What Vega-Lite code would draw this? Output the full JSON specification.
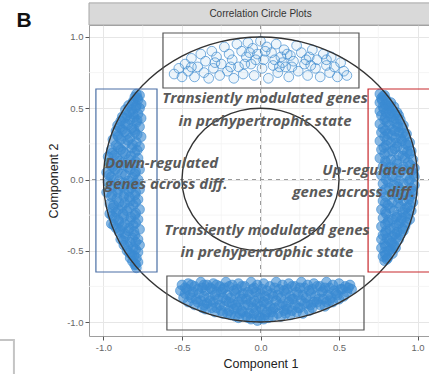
{
"$schema":"https://vega.github.io/schema/vega-lite/v6.json",
"width":343,"height":311,
"autosize":"none",
"padding":{"left":89,"top":25,"right":0,"bottom":38},
"background":"white",
"config":{"view":{"stroke":"#9e9e9e","strokeWidth":1},"font":"Liberation Sans"},
"datasets":{
"dense":[
{"x":0.76,"y":0.6},{"x":0.79,"y":0.59},{"x":0.77,"y":0.57},{"x":0.8,"y":0.56},{"x":0.76,"y":0.54},{"x":0.81,"y":0.53},{"x":0.83,"y":0.54},{"x":0.78,"y":0.51},{"x":0.82,"y":0.5},{"x":0.85,"y":0.51},{"x":0.76,"y":0.48},{"x":0.8,"y":0.47},{"x":0.84,"y":0.48},{"x":0.87,"y":0.47},{"x":0.77,"y":0.45},{"x":0.83,"y":0.44},{"x":0.88,"y":0.45},{"x":0.79,"y":0.42},{"x":0.85,"y":0.41},{"x":0.89,"y":0.42},{"x":0.76,"y":0.39},{"x":0.82,"y":0.38},{"x":0.87,"y":0.39},{"x":0.91,"y":0.38},{"x":0.78,"y":0.36},{"x":0.84,"y":0.35},{"x":0.9,"y":0.36},{"x":0.77,"y":0.33},{"x":0.81,"y":0.32},{"x":0.88,"y":0.33},{"x":0.93,"y":0.32},{"x":0.79,"y":0.3},{"x":0.86,"y":0.29},{"x":0.92,"y":0.3},{"x":0.76,"y":0.27},{"x":0.83,"y":0.26},{"x":0.9,"y":0.27},{"x":0.95,"y":0.26},{"x":0.8,"y":0.24},{"x":0.87,"y":0.23},{"x":0.94,"y":0.24},{"x":0.77,"y":0.21},{"x":0.84,"y":0.2},{"x":0.91,"y":0.21},{"x":0.96,"y":0.2},{"x":0.79,"y":0.18},{"x":0.88,"y":0.17},{"x":0.95,"y":0.18},{"x":0.76,"y":0.15},{"x":0.83,"y":0.14},{"x":0.92,"y":0.15},{"x":0.97,"y":0.14},{"x":0.8,"y":0.12},{"x":0.87,"y":0.11},{"x":0.94,"y":0.12},{"x":0.78,"y":0.09},{"x":0.85,"y":0.08},{"x":0.91,"y":0.09},{"x":0.98,"y":0.08},{"x":0.81,"y":0.06},{"x":0.89,"y":0.05},{"x":0.96,"y":0.06},{"x":0.77,"y":0.03},{"x":0.84,"y":0.02},{"x":0.93,"y":0.03},{"x":0.98,"y":0.02},{"x":0.8,"y":0.0},{"x":0.88,"y":-0.01},{"x":0.95,"y":0.0},{"x":0.78,"y":-0.03},{"x":0.85,"y":-0.04},{"x":0.91,"y":-0.03},{"x":0.98,"y":-0.04},{"x":0.82,"y":-0.06},{"x":0.89,"y":-0.07},{"x":0.96,"y":-0.06},{"x":0.77,"y":-0.09},{"x":0.86,"y":-0.1},{"x":0.93,"y":-0.09},{"x":0.97,"y":-0.1},{"x":0.8,"y":-0.12},{"x":0.88,"y":-0.13},{"x":0.95,"y":-0.12},{"x":0.78,"y":-0.15},{"x":0.84,"y":-0.16},{"x":0.91,"y":-0.15},{"x":0.97,"y":-0.16},{"x":0.81,"y":-0.18},{"x":0.89,"y":-0.19},{"x":0.95,"y":-0.18},{"x":0.77,"y":-0.21},{"x":0.85,"y":-0.22},{"x":0.92,"y":-0.21},{"x":0.96,"y":-0.22},{"x":0.8,"y":-0.24},{"x":0.87,"y":-0.25},{"x":0.94,"y":-0.24},{"x":0.78,"y":-0.27},{"x":0.84,"y":-0.28},{"x":0.9,"y":-0.27},{"x":0.95,"y":-0.28},{"x":0.81,"y":-0.3},{"x":0.88,"y":-0.31},{"x":0.93,"y":-0.3},{"x":0.77,"y":-0.33},{"x":0.85,"y":-0.34},{"x":0.92,"y":-0.33},{"x":0.8,"y":-0.36},{"x":0.87,"y":-0.37},{"x":0.91,"y":-0.36},{"x":0.78,"y":-0.39},{"x":0.84,"y":-0.4},{"x":0.89,"y":-0.39},{"x":0.77,"y":-0.42},{"x":0.82,"y":-0.43},{"x":0.88,"y":-0.42},{"x":0.79,"y":-0.45},{"x":0.85,"y":-0.46},{"x":0.77,"y":-0.48},{"x":0.83,"y":-0.49},{"x":0.86,"y":-0.48},{"x":0.79,"y":-0.51},{"x":0.84,"y":-0.52},{"x":0.78,"y":-0.54},{"x":0.81,"y":-0.55},{"x":0.79,"y":-0.57},
{"x":0.78,"y":0.585},{"x":0.775,"y":0.555},{"x":0.795,"y":0.525},{"x":0.815,"y":0.515},{"x":0.785,"y":0.495},{"x":0.825,"y":0.465},{"x":0.855,"y":0.455},{"x":0.795,"y":0.435},{"x":0.865,"y":0.425},{"x":0.805,"y":0.405},{"x":0.875,"y":0.37},{"x":0.795,"y":0.345},{"x":0.855,"y":0.34},{"x":0.905,"y":0.325},{"x":0.835,"y":0.31},{"x":0.895,"y":0.285},{"x":0.805,"y":0.275},{"x":0.865,"y":0.255},{"x":0.925,"y":0.25},{"x":0.785,"y":0.225},{"x":0.855,"y":0.215},{"x":0.935,"y":0.195},{"x":0.815,"y":0.19},{"x":0.905,"y":0.165},{"x":0.795,"y":0.13},{"x":0.865,"y":0.135},{"x":0.955,"y":0.1},{"x":0.825,"y":0.085},{"x":0.905,"y":0.07},{"x":0.975,"y":0.04},{"x":0.795,"y":0.045},{"x":0.865,"y":0.02},{"x":0.945,"y":-0.015},{"x":0.815,"y":-0.02},{"x":0.875,"y":-0.05},{"x":0.965,"y":-0.08},{"x":0.795,"y":-0.07},{"x":0.905,"y":-0.11},{"x":0.835,"y":-0.105},{"x":0.945,"y":-0.14},{"x":0.795,"y":-0.165},{"x":0.875,"y":-0.165},{"x":0.935,"y":-0.195},{"x":0.825,"y":-0.2},{"x":0.905,"y":-0.23},{"x":0.795,"y":-0.225},{"x":0.865,"y":-0.265},{"x":0.925,"y":-0.26},{"x":0.815,"y":-0.285},{"x":0.895,"y":-0.29},{"x":0.795,"y":-0.315},{"x":0.865,"y":-0.32},{"x":0.905,"y":-0.345},{"x":0.825,"y":-0.35},{"x":0.855,"y":-0.385},{"x":0.795,"y":-0.375},{"x":0.865,"y":-0.41},{"x":0.805,"y":-0.415},{"x":0.835,"y":-0.445},{"x":0.795,"y":-0.47},{"x":0.845,"y":-0.475},{"x":0.815,"y":-0.5},{"x":0.795,"y":-0.53},{"x":0.805,"y":-0.56},
{"x":-0.77,"y":0.59},{"x":-0.8,"y":0.58},{"x":-0.78,"y":0.56},{"x":-0.81,"y":0.55},{"x":-0.76,"y":0.53},{"x":-0.79,"y":0.52},{"x":-0.84,"y":0.52},{"x":-0.77,"y":0.5},{"x":-0.82,"y":0.49},{"x":-0.86,"y":0.49},{"x":-0.78,"y":0.46},{"x":-0.81,"y":0.46},{"x":-0.85,"y":0.45},{"x":-0.88,"y":0.44},{"x":-0.76,"y":0.43},{"x":-0.83,"y":0.42},{"x":-0.89,"y":0.41},{"x":-0.79,"y":0.4},{"x":-0.86,"y":0.39},{"x":-0.91,"y":0.38},{"x":-0.77,"y":0.37},{"x":-0.82,"y":0.36},{"x":-0.88,"y":0.35},{"x":-0.92,"y":0.34},{"x":-0.8,"y":0.33},{"x":-0.85,"y":0.32},{"x":-0.91,"y":0.31},{"x":-0.76,"y":0.3},{"x":-0.83,"y":0.29},{"x":-0.89,"y":0.28},{"x":-0.94,"y":0.28},{"x":-0.79,"y":0.26},{"x":-0.86,"y":0.25},{"x":-0.92,"y":0.24},{"x":-0.77,"y":0.23},{"x":-0.82,"y":0.22},{"x":-0.89,"y":0.21},{"x":-0.95,"y":0.21},{"x":-0.8,"y":0.19},{"x":-0.86,"y":0.18},{"x":-0.93,"y":0.17},{"x":-0.97,"y":0.16},{"x":-0.78,"y":0.15},{"x":-0.84,"y":0.14},{"x":-0.9,"y":0.13},{"x":-0.96,"y":0.12},{"x":-0.81,"y":0.11},{"x":-0.87,"y":0.1},{"x":-0.94,"y":0.09},{"x":-0.77,"y":0.07},{"x":-0.83,"y":0.07},{"x":-0.91,"y":0.06},{"x":-0.98,"y":0.05},{"x":-0.8,"y":0.04},{"x":-0.86,"y":0.03},{"x":-0.95,"y":0.02},{"x":-0.78,"y":0.0},{"x":-0.84,"y":-0.01},{"x":-0.9,"y":-0.01},{"x":-0.97,"y":-0.02},{"x":-0.81,"y":-0.04},{"x":-0.88,"y":-0.05},{"x":-0.94,"y":-0.05},{"x":-0.77,"y":-0.07},{"x":-0.84,"y":-0.08},{"x":-0.91,"y":-0.09},{"x":-0.98,"y":-0.09},{"x":-0.8,"y":-0.11},{"x":-0.87,"y":-0.12},{"x":-0.95,"y":-0.12},{"x":-0.78,"y":-0.14},{"x":-0.83,"y":-0.15},{"x":-0.9,"y":-0.16},{"x":-0.96,"y":-0.17},{"x":-0.81,"y":-0.18},{"x":-0.88,"y":-0.19},{"x":-0.94,"y":-0.2},{"x":-0.77,"y":-0.21},{"x":-0.85,"y":-0.22},{"x":-0.92,"y":-0.23},{"x":-0.96,"y":-0.24},{"x":-0.8,"y":-0.25},{"x":-0.87,"y":-0.26},{"x":-0.93,"y":-0.27},{"x":-0.78,"y":-0.28},{"x":-0.83,"y":-0.29},{"x":-0.9,"y":-0.3},{"x":-0.95,"y":-0.31},{"x":-0.81,"y":-0.32},{"x":-0.88,"y":-0.33},{"x":-0.92,"y":-0.34},{"x":-0.77,"y":-0.35},{"x":-0.84,"y":-0.36},{"x":-0.9,"y":-0.37},{"x":-0.8,"y":-0.39},{"x":-0.86,"y":-0.4},{"x":-0.89,"y":-0.42},{"x":-0.78,"y":-0.42},{"x":-0.83,"y":-0.44},{"x":-0.87,"y":-0.46},{"x":-0.77,"y":-0.46},{"x":-0.81,"y":-0.48},{"x":-0.85,"y":-0.5},{"x":-0.78,"y":-0.51},{"x":-0.82,"y":-0.53},{"x":-0.79,"y":-0.55},{"x":-0.83,"y":-0.55},{"x":-0.78,"y":-0.58},{"x":-0.8,"y":-0.6},{"x":-0.79,"y":-0.62},
{"x":-0.79,"y":0.6},{"x":-0.785,"y":0.575},{"x":-0.815,"y":0.535},{"x":-0.795,"y":0.505},{"x":-0.835,"y":0.47},{"x":-0.805,"y":0.435},{"x":-0.865,"y":0.43},{"x":-0.785,"y":0.415},{"x":-0.845,"y":0.385},{"x":-0.895,"y":0.365},{"x":-0.805,"y":0.35},{"x":-0.865,"y":0.335},{"x":-0.785,"y":0.315},{"x":-0.905,"y":0.3},{"x":-0.845,"y":0.275},{"x":-0.815,"y":0.245},{"x":-0.905,"y":0.225},{"x":-0.785,"y":0.205},{"x":-0.875,"y":0.195},{"x":-0.945,"y":0.185},{"x":-0.825,"y":0.165},{"x":-0.915,"y":0.15},{"x":-0.795,"y":0.125},{"x":-0.875,"y":0.12},{"x":-0.955,"y":0.1},{"x":-0.845,"y":0.085},{"x":-0.925,"y":0.07},{"x":-0.795,"y":0.055},{"x":-0.885,"y":0.04},{"x":-0.965,"y":0.03},{"x":-0.815,"y":0.015},{"x":-0.935,"y":-0.005},{"x":-0.865,"y":-0.025},{"x":-0.795,"y":-0.025},{"x":-0.955,"y":-0.04},{"x":-0.905,"y":-0.065},{"x":-0.825,"y":-0.06},{"x":-0.865,"y":-0.095},{"x":-0.945,"y":-0.105},{"x":-0.795,"y":-0.09},{"x":-0.835,"y":-0.125},{"x":-0.915,"y":-0.135},{"x":-0.865,"y":-0.165},{"x":-0.795,"y":-0.16},{"x":-0.935,"y":-0.18},{"x":-0.835,"y":-0.2},{"x":-0.905,"y":-0.21},{"x":-0.795,"y":-0.235},{"x":-0.875,"y":-0.24},{"x":-0.945,"y":-0.255},{"x":-0.825,"y":-0.265},{"x":-0.905,"y":-0.285},{"x":-0.795,"y":-0.305},{"x":-0.865,"y":-0.31},{"x":-0.935,"y":-0.32},{"x":-0.835,"y":-0.34},{"x":-0.895,"y":-0.355},{"x":-0.805,"y":-0.365},{"x":-0.865,"y":-0.38},{"x":-0.815,"y":-0.41},{"x":-0.875,"y":-0.43},{"x":-0.795,"y":-0.44},{"x":-0.845,"y":-0.47},{"x":-0.795,"y":-0.49},{"x":-0.835,"y":-0.515},{"x":-0.805,"y":-0.535},{"x":-0.815,"y":-0.575},{"x":-0.795,"y":-0.595},
{"x":-0.5,"y":-0.74},{"x":-0.51,"y":-0.78},{"x":-0.49,"y":-0.83},{"x":-0.46,"y":-0.73},{"x":-0.47,"y":-0.77},{"x":-0.45,"y":-0.81},{"x":-0.46,"y":-0.86},{"x":-0.42,"y":-0.75},{"x":-0.43,"y":-0.79},{"x":-0.41,"y":-0.84},{"x":-0.42,"y":-0.88},{"x":-0.38,"y":-0.72},{"x":-0.37,"y":-0.76},{"x":-0.39,"y":-0.8},{"x":-0.38,"y":-0.85},{"x":-0.37,"y":-0.9},{"x":-0.34,"y":-0.74},{"x":-0.35,"y":-0.78},{"x":-0.33,"y":-0.83},{"x":-0.34,"y":-0.87},{"x":-0.35,"y":-0.91},{"x":-0.3,"y":-0.73},{"x":-0.31,"y":-0.77},{"x":-0.29,"y":-0.81},{"x":-0.3,"y":-0.86},{"x":-0.31,"y":-0.9},{"x":-0.29,"y":-0.93},{"x":-0.26,"y":-0.75},{"x":-0.25,"y":-0.79},{"x":-0.27,"y":-0.84},{"x":-0.26,"y":-0.88},{"x":-0.25,"y":-0.92},{"x":-0.22,"y":-0.72},{"x":-0.23,"y":-0.76},{"x":-0.21,"y":-0.81},{"x":-0.22,"y":-0.85},{"x":-0.23,"y":-0.89},{"x":-0.21,"y":-0.94},{"x":-0.18,"y":-0.74},{"x":-0.17,"y":-0.78},{"x":-0.19,"y":-0.83},{"x":-0.18,"y":-0.87},{"x":-0.17,"y":-0.91},{"x":-0.19,"y":-0.95},{"x":-0.14,"y":-0.73},{"x":-0.15,"y":-0.77},{"x":-0.13,"y":-0.82},{"x":-0.14,"y":-0.86},{"x":-0.15,"y":-0.9},{"x":-0.13,"y":-0.94},{"x":-0.14,"y":-0.97},{"x":-0.1,"y":-0.75},{"x":-0.11,"y":-0.8},{"x":-0.09,"y":-0.84},{"x":-0.1,"y":-0.88},{"x":-0.11,"y":-0.93},{"x":-0.09,"y":-0.96},{"x":-0.06,"y":-0.72},{"x":-0.05,"y":-0.77},{"x":-0.07,"y":-0.81},{"x":-0.06,"y":-0.86},{"x":-0.05,"y":-0.9},{"x":-0.07,"y":-0.94},{"x":-0.06,"y":-0.98},{"x":-0.02,"y":-0.74},{"x":-0.03,"y":-0.79},{"x":-0.01,"y":-0.83},{"x":-0.02,"y":-0.87},{"x":-0.03,"y":-0.92},{"x":-0.01,"y":-0.96},{"x":-0.02,"y":-0.99},{"x":0.02,"y":-0.73},{"x":0.01,"y":-0.77},{"x":0.03,"y":-0.82},{"x":0.02,"y":-0.86},{"x":0.01,"y":-0.91},{"x":0.03,"y":-0.95},{"x":0.02,"y":-0.98},{"x":0.06,"y":-0.75},{"x":0.07,"y":-0.8},{"x":0.05,"y":-0.84},{"x":0.06,"y":-0.89},{"x":0.07,"y":-0.93},{"x":0.05,"y":-0.97},{"x":0.1,"y":-0.72},{"x":0.09,"y":-0.76},{"x":0.11,"y":-0.81},{"x":0.1,"y":-0.85},{"x":0.09,"y":-0.9},{"x":0.11,"y":-0.94},{"x":0.14,"y":-0.74},{"x":0.15,"y":-0.78},{"x":0.13,"y":-0.83},{"x":0.14,"y":-0.87},{"x":0.15,"y":-0.92},{"x":0.13,"y":-0.96},{"x":0.18,"y":-0.73},{"x":0.17,"y":-0.77},{"x":0.19,"y":-0.82},{"x":0.18,"y":-0.86},{"x":0.17,"y":-0.91},{"x":0.19,"y":-0.95},{"x":0.22,"y":-0.75},{"x":0.23,"y":-0.79},{"x":0.21,"y":-0.84},{"x":0.22,"y":-0.88},{"x":0.23,"y":-0.93},{"x":0.26,"y":-0.72},{"x":0.25,"y":-0.76},{"x":0.27,"y":-0.81},{"x":0.26,"y":-0.85},{"x":0.25,"y":-0.9},{"x":0.27,"y":-0.94},{"x":0.3,"y":-0.74},{"x":0.31,"y":-0.78},{"x":0.29,"y":-0.83},{"x":0.3,"y":-0.87},{"x":0.31,"y":-0.92},{"x":0.34,"y":-0.73},{"x":0.33,"y":-0.77},{"x":0.35,"y":-0.82},{"x":0.34,"y":-0.86},{"x":0.33,"y":-0.9},{"x":0.38,"y":-0.75},{"x":0.39,"y":-0.79},{"x":0.37,"y":-0.84},{"x":0.38,"y":-0.88},{"x":0.42,"y":-0.72},{"x":0.41,"y":-0.76},{"x":0.43,"y":-0.81},{"x":0.42,"y":-0.86},{"x":0.41,"y":-0.89},{"x":0.46,"y":-0.74},{"x":0.47,"y":-0.78},{"x":0.45,"y":-0.83},{"x":0.46,"y":-0.86},{"x":0.5,"y":-0.73},{"x":0.51,"y":-0.77},{"x":0.49,"y":-0.81},{"x":0.5,"y":-0.84},{"x":0.54,"y":-0.75},{"x":0.55,"y":-0.79},{"x":0.53,"y":-0.82},{"x":0.57,"y":-0.74},{"x":0.58,"y":-0.77},
{"x":-0.48,"y":-0.76},{"x":-0.48,"y":-0.8},{"x":-0.44,"y":-0.74},{"x":-0.44,"y":-0.83},{"x":-0.4,"y":-0.77},{"x":-0.4,"y":-0.86},{"x":-0.36,"y":-0.74},{"x":-0.36,"y":-0.82},{"x":-0.36,"y":-0.88},{"x":-0.32,"y":-0.76},{"x":-0.32,"y":-0.85},{"x":-0.28,"y":-0.74},{"x":-0.28,"y":-0.79},{"x":-0.28,"y":-0.9},{"x":-0.24,"y":-0.77},{"x":-0.24,"y":-0.83},{"x":-0.24,"y":-0.94},{"x":-0.2,"y":-0.75},{"x":-0.2,"y":-0.86},{"x":-0.2,"y":-0.92},{"x":-0.16,"y":-0.8},{"x":-0.16,"y":-0.88},{"x":-0.16,"y":-0.96},{"x":-0.12,"y":-0.75},{"x":-0.12,"y":-0.84},{"x":-0.12,"y":-0.92},{"x":-0.08,"y":-0.79},{"x":-0.08,"y":-0.88},{"x":-0.08,"y":-0.97},{"x":-0.04,"y":-0.76},{"x":-0.04,"y":-0.85},{"x":-0.04,"y":-0.94},{"x":0.0,"y":-0.8},{"x":0.0,"y":-0.89},{"x":0.0,"y":-0.97},{"x":0.04,"y":-0.78},{"x":0.04,"y":-0.87},{"x":0.04,"y":-0.93},{"x":0.08,"y":-0.82},{"x":0.08,"y":-0.91},{"x":0.08,"y":-0.96},{"x":0.12,"y":-0.77},{"x":0.12,"y":-0.88},{"x":0.16,"y":-0.8},{"x":0.16,"y":-0.89},{"x":0.16,"y":-0.94},{"x":0.2,"y":-0.75},{"x":0.2,"y":-0.84},{"x":0.2,"y":-0.92},{"x":0.24,"y":-0.81},{"x":0.24,"y":-0.9},{"x":0.28,"y":-0.76},{"x":0.28,"y":-0.87},{"x":0.32,"y":-0.8},{"x":0.32,"y":-0.88},{"x":0.36,"y":-0.75},{"x":0.36,"y":-0.86},{"x":0.4,"y":-0.78},{"x":0.4,"y":-0.84},{"x":0.44,"y":-0.76},{"x":0.44,"y":-0.85},{"x":0.48,"y":-0.8},{"x":0.52,"y":-0.77},{"x":0.56,"y":-0.76}
],
"top":[
{"x":-0.55,"y":0.74},{"x":-0.52,"y":0.78},{"x":-0.5,"y":0.72},{"x":-0.48,"y":0.81},{"x":-0.46,"y":0.76},{"x":-0.44,"y":0.85},{"x":-0.42,"y":0.72},{"x":-0.4,"y":0.79},{"x":-0.38,"y":0.88},{"x":-0.36,"y":0.75},{"x":-0.35,"y":0.83},{"x":-0.33,"y":0.71},{"x":-0.31,"y":0.9},{"x":-0.3,"y":0.78},{"x":-0.28,"y":0.86},{"x":-0.26,"y":0.73},{"x":-0.25,"y":0.81},{"x":-0.23,"y":0.93},{"x":-0.21,"y":0.76},{"x":-0.2,"y":0.88},{"x":-0.18,"y":0.84},{"x":-0.17,"y":0.71},{"x":-0.15,"y":0.95},{"x":-0.14,"y":0.79},{"x":-0.12,"y":0.9},{"x":-0.11,"y":0.74},{"x":-0.09,"y":0.86},{"x":-0.08,"y":0.96},{"x":-0.06,"y":0.81},{"x":-0.05,"y":0.92},{"x":-0.04,"y":0.73},{"x":-0.02,"y":0.88},{"x":0.0,"y":0.97},{"x":0.01,"y":0.78},{"x":0.02,"y":0.84},{"x":0.04,"y":0.93},{"x":0.05,"y":0.71},{"x":0.07,"y":0.89},{"x":0.08,"y":0.8},{"x":0.1,"y":0.95},{"x":0.11,"y":0.75},{"x":0.13,"y":0.86},{"x":0.15,"y":0.91},{"x":0.16,"y":0.79},{"x":0.18,"y":0.72},{"x":0.19,"y":0.87},{"x":0.21,"y":0.83},{"x":0.23,"y":0.94},{"x":0.24,"y":0.76},{"x":0.26,"y":0.89},{"x":0.28,"y":0.81},{"x":0.3,"y":0.73},{"x":0.31,"y":0.86},{"x":0.33,"y":0.91},{"x":0.35,"y":0.78},{"x":0.36,"y":0.84},{"x":0.38,"y":0.72},{"x":0.4,"y":0.88},{"x":0.42,"y":0.8},{"x":0.44,"y":0.75},{"x":0.45,"y":0.86},{"x":0.47,"y":0.79},{"x":0.49,"y":0.72},{"x":0.51,"y":0.82},{"x":0.53,"y":0.76},{"x":0.55,"y":0.73},{"x":-0.44,"y":0.79},{"x":-0.29,"y":0.82},{"x":-0.19,"y":0.79},{"x":-0.03,"y":0.84},{"x":0.09,"y":0.84},{"x":0.2,"y":0.79},{"x":0.32,"y":0.8},{"x":0.42,"y":0.84},{"x":-0.1,"y":0.81},{"x":0.14,"y":0.82},{"x":-0.07,"y":0.89},{"x":0.03,"y":0.9},{"x":0.17,"y":0.88},{"x":0.29,"y":0.84},{"x":0.12,"y":0.79}
],
"circ":[
{"c":"a","i":0,"x":1,"y":0},{"c":"a","i":1,"x":0.966,"y":0.259},{"c":"a","i":2,"x":0.866,"y":0.5},{"c":"a","i":3,"x":0.707,"y":0.707},{"c":"a","i":4,"x":0.5,"y":0.866},{"c":"a","i":5,"x":0.259,"y":0.966},{"c":"a","i":6,"x":0,"y":1},{"c":"a","i":7,"x":-0.259,"y":0.966},{"c":"a","i":8,"x":-0.5,"y":0.866},{"c":"a","i":9,"x":-0.707,"y":0.707},{"c":"a","i":10,"x":-0.866,"y":0.5},{"c":"a","i":11,"x":-0.966,"y":0.259},{"c":"a","i":12,"x":-1,"y":0},{"c":"a","i":13,"x":-0.966,"y":-0.259},{"c":"a","i":14,"x":-0.866,"y":-0.5},{"c":"a","i":15,"x":-0.707,"y":-0.707},{"c":"a","i":16,"x":-0.5,"y":-0.866},{"c":"a","i":17,"x":-0.259,"y":-0.966},{"c":"a","i":18,"x":0,"y":-1},{"c":"a","i":19,"x":0.259,"y":-0.966},{"c":"a","i":20,"x":0.5,"y":-0.866},{"c":"a","i":21,"x":0.707,"y":-0.707},{"c":"a","i":22,"x":0.866,"y":-0.5},{"c":"a","i":23,"x":0.966,"y":-0.259},
{"c":"b","i":0,"x":0.5,"y":0},{"c":"b","i":1,"x":0.483,"y":0.129},{"c":"b","i":2,"x":0.433,"y":0.25},{"c":"b","i":3,"x":0.354,"y":0.354},{"c":"b","i":4,"x":0.25,"y":0.433},{"c":"b","i":5,"x":0.129,"y":0.483},{"c":"b","i":6,"x":0,"y":0.5},{"c":"b","i":7,"x":-0.129,"y":0.483},{"c":"b","i":8,"x":-0.25,"y":0.433},{"c":"b","i":9,"x":-0.354,"y":0.354},{"c":"b","i":10,"x":-0.433,"y":0.25},{"c":"b","i":11,"x":-0.483,"y":0.129},{"c":"b","i":12,"x":-0.5,"y":0},{"c":"b","i":13,"x":-0.483,"y":-0.129},{"c":"b","i":14,"x":-0.433,"y":-0.25},{"c":"b","i":15,"x":-0.354,"y":-0.354},{"c":"b","i":16,"x":-0.25,"y":-0.433},{"c":"b","i":17,"x":-0.129,"y":-0.483},{"c":"b","i":18,"x":0,"y":-0.5},{"c":"b","i":19,"x":0.129,"y":-0.483},{"c":"b","i":20,"x":0.25,"y":-0.433},{"c":"b","i":21,"x":0.354,"y":-0.354},{"c":"b","i":22,"x":0.433,"y":-0.25},{"c":"b","i":23,"x":0.483,"y":-0.129}
],
"minor":[{"v":-0.75},{"v":-0.25},{"v":0.25},{"v":0.75}],
"boxes":[{"x":-0.621,"x2":0.627,"y":1.028,"y2":0.642,"c":"g"},{"x":-0.596,"x2":0.659,"y":-0.677,"y2":-1.056,"c":"g"},{"x":-1.048,"x2":-0.659,"y":0.635,"y2":-0.649,"c":"b"},{"x":0.685,"x2":1.12,"y":0.635,"y2":-0.649,"c":"r"}],
"tc":[{"x":0.029,"y":0.572,"t":"Transiently modulated genes"},{"x":0.029,"y":0.411,"t":"in prehypertrophic state"},{"x":0.041,"y":-0.354,"t":"Transiently modulated genes"},{"x":0.041,"y":-0.509,"t":"in prehypertrophic state"}],
"tl":[{"x":-0.99,"y":0.116,"t":"Down-regulated"},{"x":-0.99,"y":-0.032,"t":"genes across diff."}],
"tr":[{"x":0.984,"y":0.067,"t":"Up-regulated"},{"x":0.984,"y":-0.088,"t":"genes across diff."}],
"strip":[{"x":-1.092,"x2":1.2,"y":1.084,"y2":1.239}],
"striptext":[{"x":0,"y":1.16,"t":"Correlation Circle Plots"}],
"tag":[{"x":-1.506,"y":1.112,"t":"B"}],
"bracket":[{"x":-1.8,"x2":-1.57,"y":-1.126,"y2":-1.5}]
},
"layer":[
{"data":{"name":"minor"},"mark":{"type":"rule","color":"#f3f3f3","strokeWidth":0.8},
 "encoding":{"x":{"field":"v","type":"quantitative","scale":{"domain":[-1.092,1.092],"nice":false,"zero":false}}}},
{"data":{"name":"minor"},"mark":{"type":"rule","color":"#f3f3f3","strokeWidth":0.8},
 "encoding":{"y":{"field":"v","type":"quantitative","scale":{"domain":[-1.098,1.084],"nice":false,"zero":false}}}},
{"data":{"name":"minor"},"mark":{"type":"rule","color":"#9a9a9a","strokeDash":[4,4],"strokeWidth":1},
 "encoding":{"x":{"datum":0,"type":"quantitative","scale":{"domain":[-1.092,1.092],"nice":false,"zero":false}}}},
{"data":{"name":"minor"},"mark":{"type":"rule","color":"#9a9a9a","strokeDash":[4,4],"strokeWidth":1},
 "encoding":{"y":{"datum":0,"type":"quantitative","scale":{"domain":[-1.098,1.084],"nice":false,"zero":false}}}},
{"data":{"name":"dense"},"mark":{"type":"circle","size":95,"fill":"#3a8ad2","fillOpacity":0.6,"stroke":"#3a8ad2","strokeOpacity":0.6,"strokeWidth":1},
 "encoding":{
  "x":{"field":"x","type":"quantitative","scale":{"domain":[-1.092,1.092],"nice":false,"zero":false},
   "axis":{"values":[-1,-0.5,0,0.5,1],"labelExpr":"(datum.value<0?'-':'')+format(abs(datum.value),'.1f')","title":"Component 1","titleFontSize":12.5,"titleFontWeight":"normal","titleColor":"#222","titlePadding":6,"labelFontSize":9.5,"labelColor":"#666","labelPadding":2,"tickSize":4,"tickColor":"#555","domain":false,"grid":true,"gridColor":"#e6e6e6","labelFlush":false}},
  "y":{"field":"y","type":"quantitative","scale":{"domain":[-1.098,1.084],"nice":false,"zero":false},
   "axis":{"values":[-1,-0.5,0,0.5,1],"labelExpr":"(datum.value<0?'-':'')+format(abs(datum.value),'.1f')","title":"Component 2","titleFontSize":12.5,"titleFontWeight":"normal","titleColor":"#222","titlePadding":6,"labelFontSize":9.5,"labelColor":"#666","labelPadding":2,"tickSize":4,"tickColor":"#555","domain":false,"grid":true,"gridColor":"#e6e6e6","labelFlush":false}}}},
{"data":{"name":"top"},"mark":{"type":"circle","size":95,"fill":"#6aaae0","fillOpacity":0.12,"stroke":"#3585cc","strokeOpacity":0.65,"strokeWidth":1},
 "encoding":{
  "x":{"field":"x","type":"quantitative","scale":{"domain":[-1.092,1.092],"nice":false,"zero":false}},
  "y":{"field":"y","type":"quantitative","scale":{"domain":[-1.098,1.084],"nice":false,"zero":false}}}},
{"data":{"name":"circ"},"mark":{"type":"line","interpolate":"cardinal-closed","color":"#333333","strokeWidth":1.4},
 "encoding":{
  "x":{"field":"x","type":"quantitative","scale":{"domain":[-1.092,1.092],"nice":false,"zero":false}},
  "y":{"field":"y","type":"quantitative","scale":{"domain":[-1.098,1.084],"nice":false,"zero":false}},
  "detail":{"field":"c","type":"nominal"},
  "order":{"field":"i","type":"quantitative"}}},
{"data":{"name":"boxes"},"mark":{"type":"rect","filled":false,"strokeWidth":1.2},
 "encoding":{
  "x":{"field":"x","type":"quantitative","scale":{"domain":[-1.092,1.092],"nice":false,"zero":false}},
  "x2":{"field":"x2"},
  "y":{"field":"y","type":"quantitative","scale":{"domain":[-1.098,1.084],"nice":false,"zero":false}},
  "y2":{"field":"y2"},
  "stroke":{"field":"c","type":"nominal","scale":{"domain":["g","b","r"],"range":["#555555","#4a6fa5","#c8282d"]},"legend":null}}},
{"data":{"name":"tc"},"mark":{"type":"text","font":"Open Sans","fontStyle":"italic","fontWeight":"bold","fontSize":15,"color":"#5a5a5a","align":"center","baseline":"middle"},
 "encoding":{
  "x":{"field":"x","type":"quantitative","scale":{"domain":[-1.092,1.092],"nice":false,"zero":false}},
  "y":{"field":"y","type":"quantitative","scale":{"domain":[-1.098,1.084],"nice":false,"zero":false}},
  "text":{"field":"t"}}},
{"data":{"name":"tl"},"mark":{"type":"text","font":"Open Sans","fontStyle":"italic","fontWeight":"bold","fontSize":15,"color":"#5a5a5a","align":"left","baseline":"middle"},
 "encoding":{
  "x":{"field":"x","type":"quantitative","scale":{"domain":[-1.092,1.092],"nice":false,"zero":false}},
  "y":{"field":"y","type":"quantitative","scale":{"domain":[-1.098,1.084],"nice":false,"zero":false}},
  "text":{"field":"t"}}},
{"data":{"name":"tr"},"mark":{"type":"text","font":"Open Sans","fontStyle":"italic","fontWeight":"bold","fontSize":15,"color":"#5a5a5a","align":"right","baseline":"middle"},
 "encoding":{
  "x":{"field":"x","type":"quantitative","scale":{"domain":[-1.092,1.092],"nice":false,"zero":false}},
  "y":{"field":"y","type":"quantitative","scale":{"domain":[-1.098,1.084],"nice":false,"zero":false}},
  "text":{"field":"t"}}},
{"data":{"name":"strip"},"mark":{"type":"rect","fill":"#d9d9d9","stroke":"#a6a6a6","strokeWidth":1},
 "encoding":{
  "x":{"field":"x","type":"quantitative","scale":{"domain":[-1.092,1.092],"nice":false,"zero":false}},
  "x2":{"field":"x2"},
  "y":{"field":"y","type":"quantitative","scale":{"domain":[-1.098,1.084],"nice":false,"zero":false}},
  "y2":{"field":"y2"}}},
{"data":{"name":"striptext"},"mark":{"type":"text","fontSize":10,"color":"#333333","align":"center","baseline":"middle"},
 "encoding":{
  "x":{"field":"x","type":"quantitative","scale":{"domain":[-1.092,1.092],"nice":false,"zero":false}},
  "y":{"field":"y","type":"quantitative","scale":{"domain":[-1.098,1.084],"nice":false,"zero":false}},
  "text":{"field":"t"}}},
{"data":{"name":"tag"},"mark":{"type":"text","fontSize":21,"fontWeight":"bold","color":"#111111","align":"center","baseline":"middle"},
 "encoding":{
  "x":{"field":"x","type":"quantitative","scale":{"domain":[-1.092,1.092],"nice":false,"zero":false}},
  "y":{"field":"y","type":"quantitative","scale":{"domain":[-1.098,1.084],"nice":false,"zero":false}},
  "text":{"field":"t"}}},
{"data":{"name":"bracket"},"mark":{"type":"rect","filled":false,"stroke":"#c4c4c4","strokeWidth":2},
 "encoding":{
  "x":{"field":"x","type":"quantitative","scale":{"domain":[-1.092,1.092],"nice":false,"zero":false}},
  "x2":{"field":"x2"},
  "y":{"field":"y","type":"quantitative","scale":{"domain":[-1.098,1.084],"nice":false,"zero":false}},
  "y2":{"field":"y2"}}}
]
}
